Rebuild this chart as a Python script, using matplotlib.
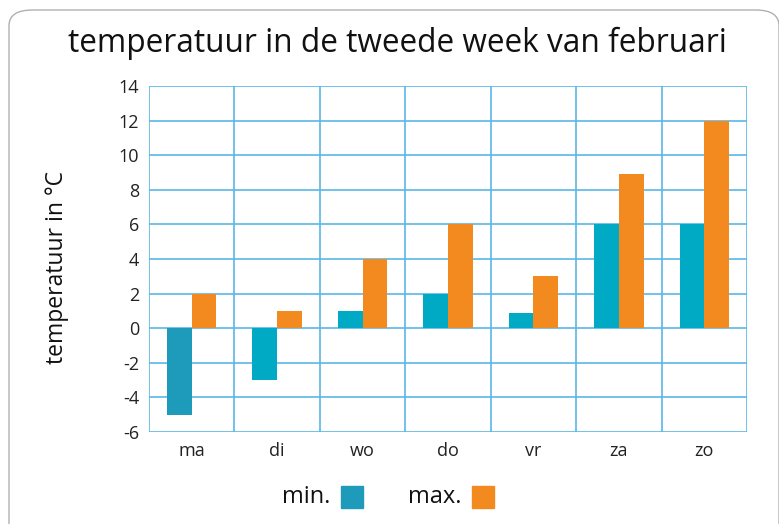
import matplotlib.pyplot as plt
import numpy as np
from matplotlib.patches import FancyBboxPatch, Rectangle

# data
dagen = ['ma', 'di', 'wo', 'do', 'vr', 'za', 'zo']
t_min = [-5, -3, 1, 2, 0.9, 6, 6.05]
t_max = [2, 1, 4, 6, 3, 8.9, 12]
yticks = list(range(-6, 15, 2))

c_min = '#00aac4'
c_min_leg = '#1e9bbb'
c_max = '#f28a20'
grid_c = '#5ab7e8'

plt.rcParams['font.family'] = ['Open Sans', 'DejaVu Sans']
plt.rcParams['axes.unicode_minus'] = False

fig = plt.figure(figsize=(7.79, 5.24), dpi=100)
ax = fig.add_axes([149/779, 1 - 432/524, 598/779, 346/524])

# rand om de figuur
frame = FancyBboxPatch((9/779, -0.05), 770/779, 1 - 10/524 + 0.05,
                       boxstyle='round,pad=0,rounding_size=0.03',
                       transform=fig.transFigure, fill=False,
                       edgecolor='#b0b0b0', linewidth=1.0, zorder=0)
fig.patches.append(frame)

x = np.arange(len(dagen))
w = 0.29
kleuren_min = [c_min_leg] + [c_min] * (len(dagen) - 1)
ax.bar(x - w/2, t_min, width=w, color=kleuren_min, zorder=3)
ax.bar(x + w/2, t_max, width=w, color=c_max, zorder=3)

ax.set_xlim(-0.5, len(dagen) - 0.5)
ax.set_ylim(-6, 14)
ax.set_yticks(yticks)
ax.set_xticks(x)
ax.set_xticklabels(dagen)
ax.set_xticks(np.arange(-0.5, len(dagen), 1), minor=True)
ax.tick_params(which='both', length=0, labelsize=13, colors='#222222')
ax.tick_params(axis='x', pad=7)
ax.tick_params(axis='y', pad=7)
ax.grid(True, which='major', axis='y', color=grid_c, linewidth=1.2, zorder=1)
ax.grid(True, which='minor', axis='x', color=grid_c, linewidth=1.2, zorder=1)
for s in ax.spines.values():
    s.set_visible(False)

ax.set_ylabel('temperatuur in °C', fontsize=16.5, color='#111111')
ax.yaxis.set_label_coords(-0.133, 0.475)
fig.text(397/779, 1 - 43/524, 'temperatuur in de tweede week van februari',
         ha='center', va='center', fontsize=22.8, color='#111111')

# legenda
ly = 1 - 497/524
fig.text(330/779, ly, 'min.', ha='right', va='center', fontsize=17, color='#111111')
fig.patches.append(Rectangle((341/779, ly - 11/524), 22/779, 22/524,
                             transform=fig.transFigure, color=c_min_leg))
fig.text(461/779, ly, 'max.', ha='right', va='center', fontsize=17, color='#111111')
fig.patches.append(Rectangle((472/779, ly - 11/524), 22/779, 22/524,
                             transform=fig.transFigure, color=c_max))

fig.savefig('out.png', dpi=100)
